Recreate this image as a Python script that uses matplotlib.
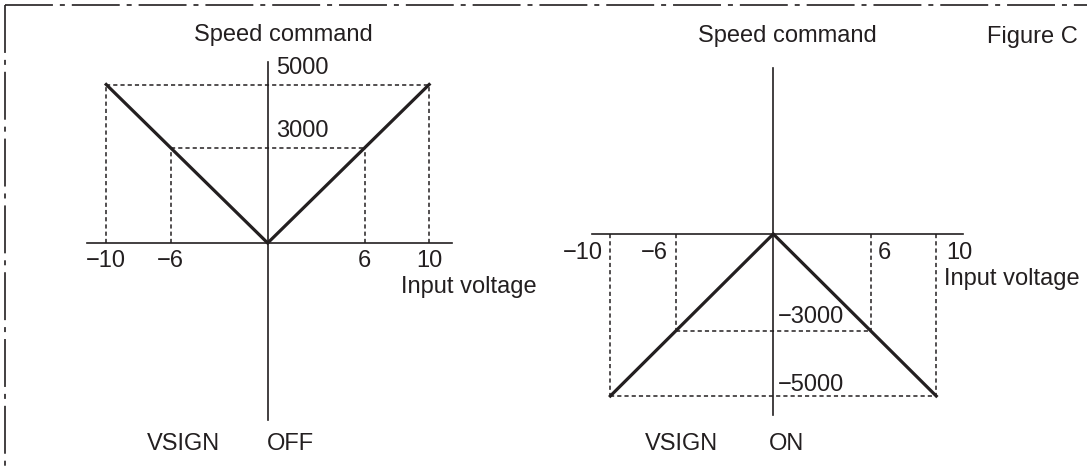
import matplotlib.pyplot as plt
from matplotlib.lines import Line2D

plt.rcParams['font.family'] = ['Liberation Sans', 'DejaVu Sans']
plt.rcParams['lines.scale_dashes'] = False

# input voltage points and speed command for VSIGN OFF / ON
volts = [-10, -6, 0, 6, 10]
speed_off = [5000, 3000, 0, 3000, 5000]
speed_on = [-5000, -3000, 0, -3000, -5000]
guide_volts = [-10, -6, 6, 10]
tick_labels = ['\u221210', '\u22126', '6', '10']

ink = '#231f20'
fs = 17
dotted = (0, (3, 2.2))

fig = plt.figure(figsize=(10.87, 4.66), dpi=100)

# ---- left panel: VSIGN OFF ----
ax1 = fig.add_axes([0, 0, 0.5, 1])
ax1.set_xlim(-16.576, 17.08)
ax1.set_ylim(-7035, 7666)
ax1.axis('off')

ax1.plot([-11.2, 11.4], [0, 0], color=ink, lw=1.2)
ax1.plot([0, 0], [-5584, 5710], color=ink, lw=1.2)
for v, s in zip(volts, speed_off):
    if v != 0:
        ax1.plot([v, v], [0, s], color=ink, lw=1.1, ls=dotted)
ax1.plot([-10, 10], [5000, 5000], color=ink, lw=1.1, ls=dotted)
ax1.plot([-6, 6], [3000, 3000], color=ink, lw=1.1, ls=dotted)
ax1.plot(volts, speed_off, color=ink, lw=2.3, solid_joinstyle='miter')

for v, lab in zip(guide_volts, tick_labels):
    ax1.text(v, -748, lab, ha='center', va='baseline', fontsize=fs, color=ink)
ax1.text(0.55, 5331, '5000', ha='left', va='baseline', fontsize=fs, color=ink)
ax1.text(0.55, 3344, '3000', ha='left', va='baseline', fontsize=fs, color=ink)
ax1.text(8.25, -1577, 'Input voltage', ha='left', va='baseline', fontsize=fs, color=ink)
ax1.text(0.95, 6372, 'Speed command', ha='center', va='baseline', fontsize=fs, color=ink)
ax1.text(-5.23, -6530, 'VSIGN', ha='center', va='baseline', fontsize=fs, color=ink)
ax1.text(-0.04, -6530, 'OFF', ha='left', va='baseline', fontsize=fs, color=ink)

# ---- right panel: VSIGN ON ----
ax2 = fig.add_axes([0.5, 0, 0.5, 1])
ax2.set_xlim(-14.1, 19.25)
ax2.set_ylim(-7160, 7222)
ax2.axis('off')

ax2.plot([-11.12, 11.64], [0, 0], color=ink, lw=1.2)
ax2.plot([0, 0], [-5586, 5123], color=ink, lw=1.2)
for v, s in zip(volts, speed_on):
    if v != 0:
        ax2.plot([v, v], [0, s], color=ink, lw=1.1, ls=dotted)
ax2.plot([-10, 10], [-5000, -5000], color=ink, lw=1.1, ls=dotted)
ax2.plot([-6, 6], [-3000, -3000], color=ink, lw=1.1, ls=dotted)
ax2.plot(volts, speed_on, color=ink, lw=2.3, solid_joinstyle='miter')

ax2.text(-10.44, -772, tick_labels[0], ha='right', va='baseline', fontsize=fs, color=ink)
ax2.text(-6.46, -772, tick_labels[1], ha='right', va='baseline', fontsize=fs, color=ink)
ax2.text(6.42, -772, tick_labels[2], ha='left', va='baseline', fontsize=fs, color=ink)
ax2.text(10.6, -772, tick_labels[3], ha='left', va='baseline', fontsize=fs, color=ink)
ax2.text(0.29, -2747, '\u22123000', ha='left', va='baseline', fontsize=fs, color=ink)
ax2.text(0.29, -4846, '\u22125000', ha='left', va='baseline', fontsize=fs, color=ink)
ax2.text(10.5, -1574, 'Input voltage', ha='left', va='baseline', fontsize=fs, color=ink)
ax2.text(0.84, 5926, 'Speed command', ha='center', va='baseline', fontsize=fs, color=ink)
ax2.text(13.1, 5895, 'Figure C', ha='left', va='baseline', fontsize=fs, color=ink)
ax2.text(-3.4, -6667, 'VSIGN', ha='right', va='baseline', fontsize=fs, color=ink)
ax2.text(-0.26, -6667, 'ON', ha='left', va='baseline', fontsize=fs, color=ink)

# dash-dot frame (top and left edges)
W, H = 1087, 466
dashdot = (0, (34.5, 5, 3.6, 5))
fig.add_artist(Line2D([5 / W, 1], [1 - 5 / H, 1 - 5 / H], color=ink, lw=1.2, ls=dashdot))
fig.add_artist(Line2D([5 / W, 5 / W], [1 - 5 / H, 0], color=ink, lw=1.2, ls=dashdot))

fig.savefig('out.png', dpi=100)
